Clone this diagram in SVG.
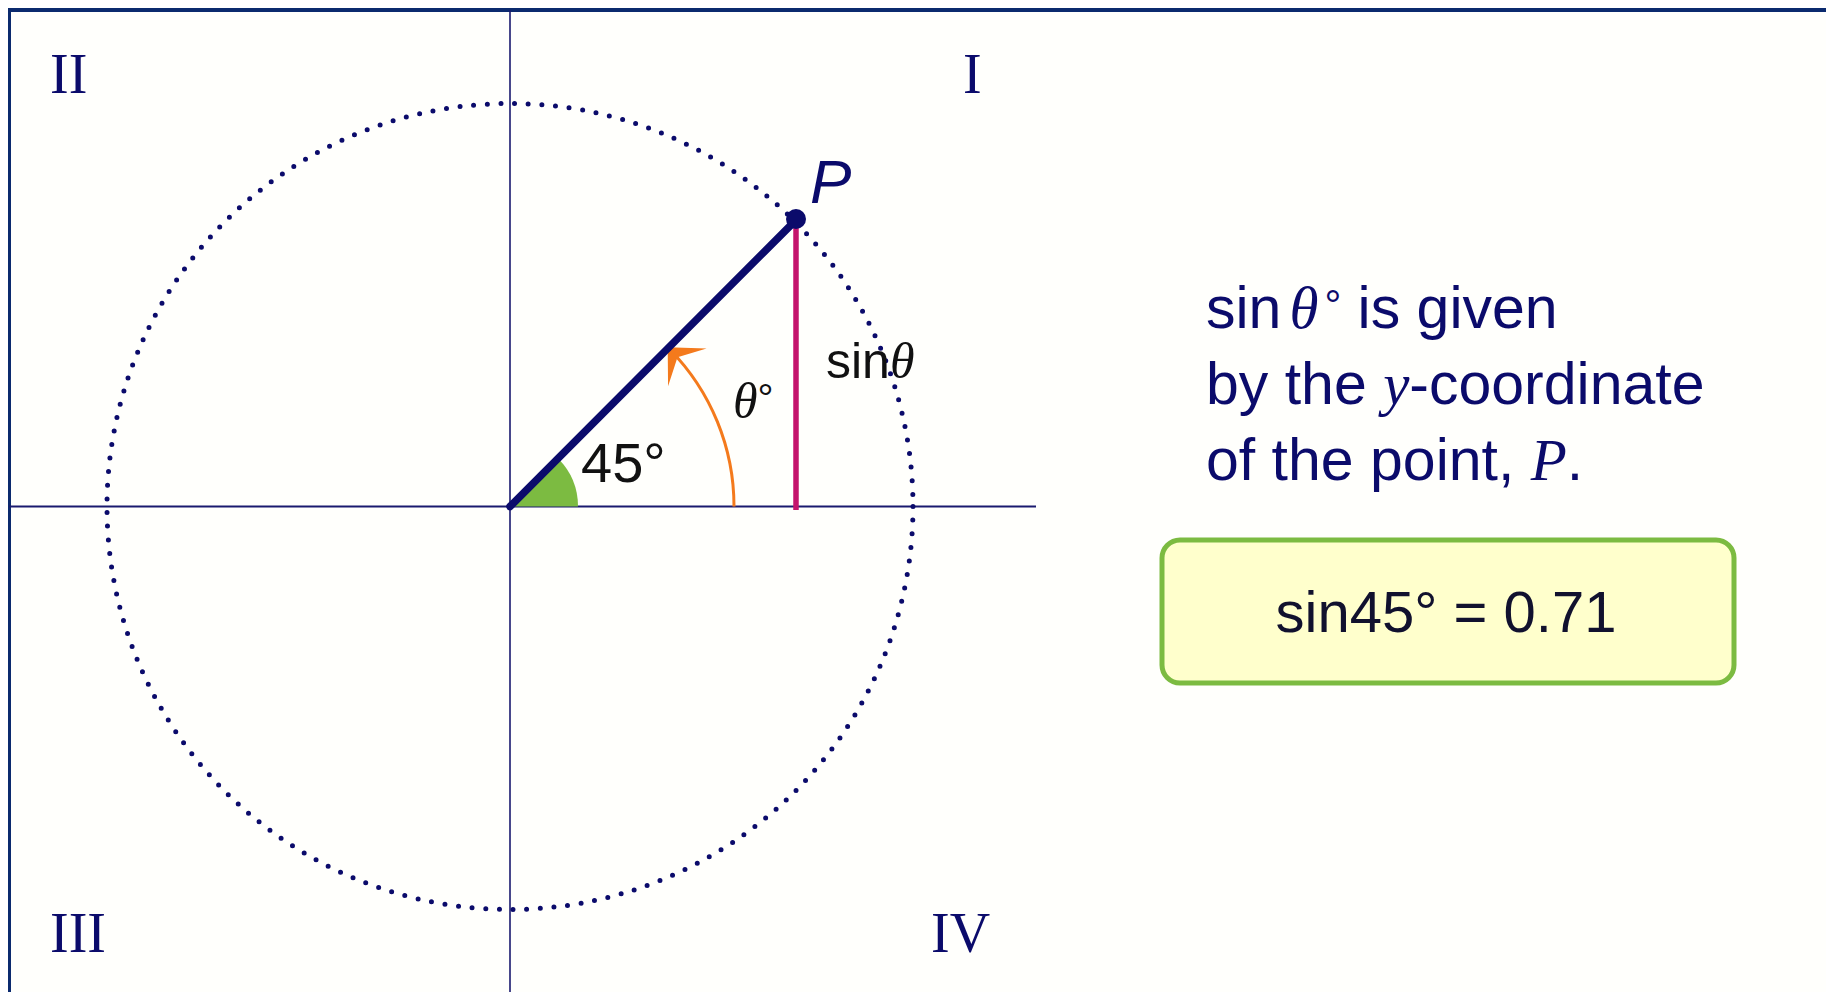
<svg xmlns="http://www.w3.org/2000/svg" width="1826" height="992" viewBox="0 0 1826 992">
<style>
.navy{fill:#0b0b6b}
.sans{font-family:"Liberation Sans",Arial,sans-serif}
.serif{font-family:"Liberation Serif","Times New Roman",serif}
.roman{font-family:"Liberation Serif","Times New Roman",serif;font-size:56px;fill:#0b0b6b}
.it{font-family:"Liberation Serif","Times New Roman",serif;font-style:italic}
</style>
<defs>
<marker id="arr" markerUnits="userSpaceOnUse" markerWidth="70" markerHeight="70" refX="0" refY="0" viewBox="-35 -35 70 70" orient="auto">
<path d="M3,0 L-25,-27 L-11,0 L-25,27 Z" fill="#f47a1c"/>
</marker>
</defs>
<rect x="0" y="0" width="1826" height="992" fill="#ffffff"/>
<rect x="9" y="11" width="1817" height="981" fill="#fffffc"/>
<g id="frame">
<line x1="9" y1="10" x2="1826" y2="10" stroke="#0b2a6e" stroke-width="4"/>
<line x1="9.5" y1="8" x2="9.5" y2="992" stroke="#0b2a6e" stroke-width="3"/>
</g>
<g id="axes">
<line x1="510" y1="10" x2="510" y2="992" stroke="#1a1a6e" stroke-width="1.6"/>
<line x1="9" y1="506.5" x2="1036" y2="506.5" stroke="#1a1a6e" stroke-width="2"/>
</g>
<g id="circle">
<circle cx="510" cy="506.5" r="403" fill="none" stroke="#0b0b6b" stroke-width="5" stroke-dasharray="0 13.69" stroke-linecap="round"/>
</g>
<g id="angle-sector">
<path d="M510,506.5 L578,506.5 A68,68 0 0 0 558.1,458.4 Z" fill="#7cbb41"/>
</g>
<g id="connectors">
<path id="theta-arc" d="M734,506.5 A224,224 0 0 0 669.8,349.5" fill="none" stroke="#f47a1c" stroke-width="3" marker-end="url(#arr)"/>
<line id="sine-line" x1="796" y1="221" x2="796" y2="510" stroke="#c4146c" stroke-width="5.5"/>
<line id="radius" x1="510" y1="506.5" x2="796" y2="220" stroke="#0b0b6b" stroke-width="7.5" stroke-linecap="round"/>
</g>
<g id="point-P">
<circle cx="796" cy="219" r="10" fill="#0b0b6b"/>
<text x="810" y="203" class="sans navy" font-size="62" font-style="italic">P</text>
</g>
<g id="labels">
<text x="581" y="482" class="sans" font-size="56" fill="#111">45°</text>
<text x="733" y="418" font-size="50" fill="#111"><tspan class="it">θ</tspan><tspan class="sans" font-size="40" dy="-6">°</tspan></text>
<text x="826" y="378" font-size="50" fill="#111"><tspan class="sans">sin</tspan><tspan class="it">θ</tspan></text>
</g>
<g id="quadrants">
<text x="50" y="93" class="roman">II</text>
<text x="963" y="93" class="roman">I</text>
<text x="50" y="952" class="roman">III</text>
<text x="931" y="952" class="roman">IV</text>
</g>
<g id="explanation">
<text x="1206" y="328" class="navy" font-size="59"><tspan class="sans">sin</tspan><tspan class="it" dx="8">θ</tspan><tspan class="sans" dx="6" font-size="42" dy="-8">°</tspan><tspan class="sans" dy="8"> is given</tspan></text>
<text x="1206" y="404" class="navy" font-size="59"><tspan class="sans">by the </tspan><tspan class="it">y</tspan><tspan class="sans">-coordinate</tspan></text>
<text x="1206" y="480" class="navy" font-size="59"><tspan class="sans">of the point, </tspan><tspan class="it">P</tspan><tspan class="sans">.</tspan></text>
</g>
<g id="result-box">
<rect x="1162" y="540" width="572" height="143" rx="18" ry="18" fill="#ffffcc" stroke="#7cbb41" stroke-width="5"/>
<text x="1446" y="632" class="sans" font-size="58" fill="#11112e" text-anchor="middle">sin45° = 0.71</text>
</g>
</svg>
